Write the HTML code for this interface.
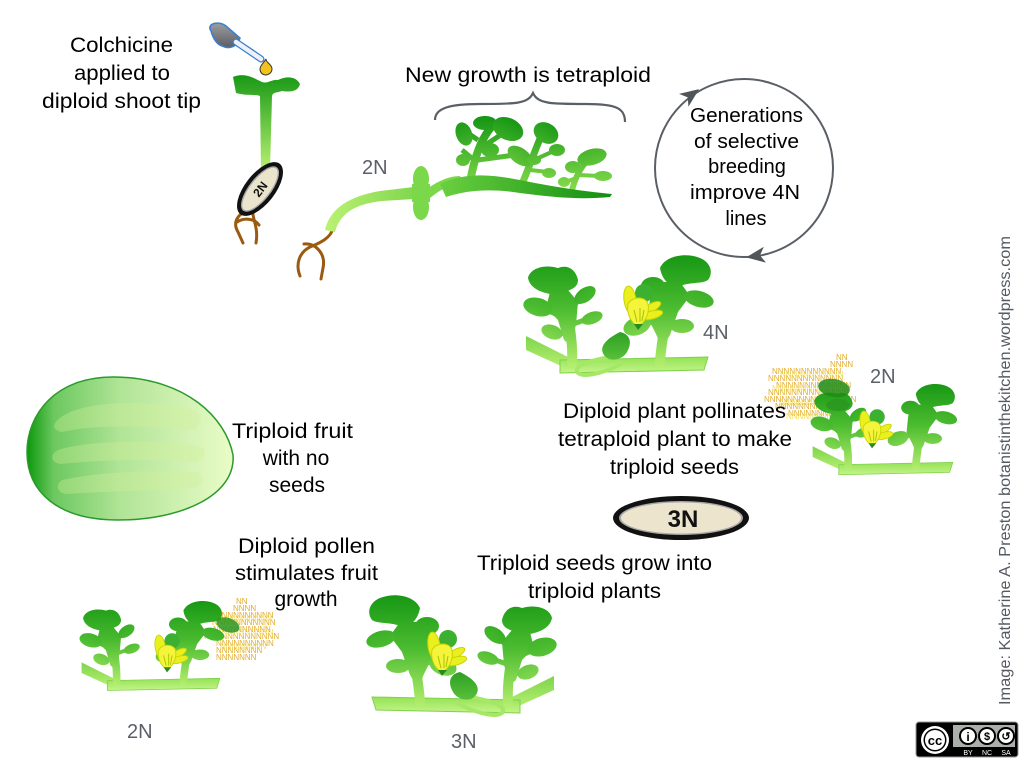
<!DOCTYPE html>
<html><head><meta charset="utf-8">
<style>
html,body{margin:0;padding:0;background:#fff;}
body{width:1024px;height:768px;overflow:hidden;}
svg{display:block;}
text{font-family:"Liberation Sans",sans-serif;}
</style></head>
<body>
<svg width="1024" height="768" viewBox="0 0 1024 768" xmlns="http://www.w3.org/2000/svg">
<defs>
  <linearGradient id="lg" gradientUnits="userSpaceOnUse" x1="0" y1="0" x2="0" y2="118">
    <stop offset="0" stop-color="#129412"/>
    <stop offset="0.5" stop-color="#4cbc30"/>
    <stop offset="1" stop-color="#b8f070"/>
  </linearGradient>
  <linearGradient id="sg" gradientUnits="userSpaceOnUse" x1="0" y1="105" x2="0" y2="124">
    <stop offset="0" stop-color="#8ee050"/>
    <stop offset="1" stop-color="#c8f58c"/>
  </linearGradient>
  <linearGradient id="og" gradientUnits="userSpaceOnUse" x1="0" y1="80" x2="0" y2="112">
    <stop offset="0" stop-color="#2a9e22"/>
    <stop offset="1" stop-color="#5cc23c"/>
  </linearGradient>
  <linearGradient id="lg2" gradientUnits="userSpaceOnUse" x1="0" y1="115" x2="0" y2="195">
    <stop offset="0" stop-color="#129412"/>
    <stop offset="1" stop-color="#8ee050"/>
  </linearGradient>
  <linearGradient id="st2" gradientUnits="userSpaceOnUse" x1="330" y1="0" x2="450" y2="0">
    <stop offset="0" stop-color="#b8f070"/>
    <stop offset="1" stop-color="#6acc40"/>
  </linearGradient>
  <linearGradient id="br2" gradientUnits="userSpaceOnUse" x1="440" y1="0" x2="612" y2="0">
    <stop offset="0" stop-color="#6ad040"/>
    <stop offset="1" stop-color="#118e11"/>
  </linearGradient>
  <linearGradient id="cot" gradientUnits="userSpaceOnUse" x1="0" y1="72" x2="0" y2="170">
    <stop offset="0" stop-color="#139613"/>
    <stop offset="1" stop-color="#b8f070"/>
  </linearGradient>
  <linearGradient id="melon" gradientUnits="userSpaceOnUse" x1="27" y1="0" x2="233" y2="0">
    <stop offset="0" stop-color="#0c980c"/>
    <stop offset="0.13" stop-color="#6cc860"/>
    <stop offset="0.45" stop-color="#b0e496"/>
    <stop offset="1" stop-color="#eafcc8"/>
  </linearGradient>
  <linearGradient id="bulb" x1="0" y1="0" x2="0" y2="1">
    <stop offset="0" stop-color="#9a9ca0"/>
    <stop offset="1" stop-color="#5c5e64"/>
  </linearGradient>

  <g id="flower">
    <circle cx="6" cy="-13" r="9" fill="#3cb030"/>
    <ellipse cx="-8" cy="-6" rx="6" ry="14" transform="rotate(-8 -8 -6)" fill="#eaf020" stroke="#c8d400" stroke-width="1"/>
    <ellipse cx="13" cy="2" rx="11" ry="4" transform="rotate(-30 13 2)" fill="#eaf020" stroke="#c8d400" stroke-width="1"/>
    <ellipse cx="14" cy="9" rx="11" ry="4" transform="rotate(-15 14 9)" fill="#eaf020" stroke="#c8d400" stroke-width="1"/>
    <path d="M-10,-2 C-6,-10 8,-10 10,-2 C12,8 6,18 0,20 C-6,18 -12,8 -10,-2 Z" fill="#f4f43a" stroke="#c8d400" stroke-width="1"/>
    <path d="M-4,4 L-1,16 M2,2 L2,16 M6,4 L4,15" stroke="#a8c000" stroke-width="1" fill="none"/>
    <path d="M-4,18 L0,24 L5,18 Z" fill="#2a8a20"/>
  </g>

  <g id="plant">
    <path d="M6,86 L6,100 L52,121 L58,112 Z" fill="url(#lg)"/>
    <path d="M40,110 L188,107 L184,120 L40,123 Z" fill="url(#sg)" stroke="#7fd24a" stroke-width="1"/>
    <g fill="url(#lg)">
      <path d="M52,112 C53,95 50,75 46,56 C44,46 40,38 34,32" stroke="url(#lg)" stroke-width="10" fill="none" stroke-linecap="round"/>
      <path d="M8,28 C10,18 25,14 38,18 C48,14 56,20 58,30 C58,38 50,40 44,42 L30,44 C20,42 10,38 8,28 Z"/>
      <path d="M30,42 L48,40 L58,52 L56,75 L50,95 L44,90 L38,70 L26,58 Z"/>
      <path d="M46,60 L66,46 M48,76 L70,68 M40,66 L22,58 M46,84 L32,82" stroke="url(#lg)" stroke-width="5" fill="none"/>
      <ellipse cx="18" cy="57" rx="15" ry="9" transform="rotate(15 18 57)"/>
      <ellipse cx="65" cy="45" rx="12" ry="7" transform="rotate(-35 65 45)"/>
      <ellipse cx="72" cy="68" rx="11" ry="6" transform="rotate(-20 72 68)"/>
      <ellipse cx="32" cy="82" rx="11" ry="7" transform="rotate(20 32 82)"/>
      <path d="M140,112 C141,95 145,75 148,55 C150,42 155,32 161,25" stroke="url(#lg)" stroke-width="10" fill="none" stroke-linecap="round"/>
      <path d="M140,18 C145,6 165,2 180,8 C190,12 194,22 188,30 C182,34 170,32 160,36 C150,38 142,30 140,18 Z"/>
      <path d="M134,32 L160,32 L170,46 L158,62 L150,85 L142,98 L136,84 L128,68 L130,48 Z"/>
      <path d="M150,44 L178,50 M150,70 L162,76 M142,70 L118,76 M140,40 L132,36" stroke="url(#lg)" stroke-width="5" fill="none"/>
      <ellipse cx="133" cy="36" rx="12" ry="9"/>
      <ellipse cx="179" cy="49" rx="15" ry="8" transform="rotate(15 179 49)"/>
      <ellipse cx="117" cy="76" rx="14" ry="9" transform="rotate(-20 117 76)"/>
      <ellipse cx="162" cy="76" rx="12" ry="7"/>
    </g>
  </g>

  <g id="ovary">
    <path d="M96,106 C70,110 52,116 58,123 C66,129 92,120 104,112" stroke="#a5e866" stroke-width="4" fill="none"/>
    <path d="M100,82 C110,84 112,92 108,100 C104,110 90,113 84,105 C78,96 88,88 100,82 Z" fill="url(#og)"/>
  </g>
</defs>

<!-- ===== Top-left seedling with colchicine ===== -->
<g font-size="21" fill="#000">
  <text x="70" y="52" textLength="103" lengthAdjust="spacingAndGlyphs">Colchicine</text>
  <text x="74" y="80" textLength="96" lengthAdjust="spacingAndGlyphs">applied to</text>
  <text x="42" y="108" textLength="159" lengthAdjust="spacingAndGlyphs">diploid shoot tip</text>
</g>

<!-- dropper -->
<path d="M211,31 C206,24 218,20 226,26 L240,38 C238,46 230,50 222,46 C216,44 213,38 211,31 Z" fill="url(#bulb)" stroke="#3a80d0" stroke-width="1.5"/>
<line x1="236" y1="42" x2="261" y2="59" stroke="#3a80d0" stroke-width="7" stroke-linecap="round"/>
<line x1="236" y1="42" x2="261" y2="59" stroke="#eef2f6" stroke-width="4.5" stroke-linecap="round"/>
<path d="M266,59 C266,63 272,64 272,69 C272,73 268,75 266,75 C262,75 260,72 260,69 C260,65 264,63 266,59 Z" fill="#f2c21e" stroke="#333" stroke-width="1"/>

<!-- seedling 1 -->
<path d="M233,77 C244,72 254,78 262,82 C268,84 272,79 278,80 C286,76 296,76 300,84 C298,92 290,92 282,91 C276,93 273,92 272,96 L270,170 L261,170 L260,96 C256,94 246,96 236,93 Z" fill="url(#cot)"/>
<g stroke="#9a5a10" stroke-width="3" fill="none" stroke-linecap="round">
  <path d="M249,209 C238,214 232,222 238,232 L243,243"/>
  <path d="M253,207 C251,218 259,226 256,243"/>
  <path d="M237,222 C245,217 255,219 259,225"/>
</g>
<g transform="translate(260,189) rotate(-52)">
  <ellipse cx="0" cy="0" rx="32" ry="15" fill="#111"/>
  <ellipse cx="0" cy="0" rx="27.5" ry="11" fill="#a8a8a8"/>
  <ellipse cx="0" cy="0" rx="26" ry="9.5" fill="#ebe4cd"/>
  <text x="0" y="4.5" font-size="12" font-weight="bold" text-anchor="middle" fill="#111">2N</text>
</g>

<!-- seedling 2 -->
<text x="362" y="174" font-size="20" fill="#5b6068">2N</text>
<g stroke="#9a5a10" stroke-width="3" fill="none" stroke-linecap="round">
  <path d="M333,228 C331,238 320,243 310,247 C300,252 295,263 300,276"/>
  <path d="M304,244 C316,243 326,254 323,268 L321,279"/>
</g>
<path d="M325,230 C330,208 350,196 380,191 L414,187 L414,199 L382,201 C354,204 340,214 335,232 Z" fill="url(#st2)"/>
<ellipse cx="421" cy="179" rx="8" ry="13" fill="#7ad84a"/>
<ellipse cx="421" cy="207" rx="8" ry="13" fill="#7ad84a"/>
<rect x="412" y="184" width="18" height="18" fill="#7ad84a"/>
<path d="M428,188 C440,180 450,176 460,176 L462,182 C450,184 440,190 430,198 Z" fill="#7ad84a"/>
<g fill="url(#lg2)">
  <g stroke="url(#lg2)" fill="none">
    <path d="M470,182 C474,160 480,140 492,126" stroke-width="8"/>
    <path d="M478,150 L502,134 M478,160 L515,155 M474,160 L462,150 M478,140 L466,132" stroke-width="5"/>
    <path d="M522,184 C528,170 535,150 542,134" stroke-width="7"/>
    <path d="M534,160 L556,150 M530,170 L548,172" stroke-width="4"/>
    <path d="M572,190 C576,175 582,165 590,158" stroke-width="6"/>
    <path d="M578,175 L600,176 M576,178 L566,182" stroke-width="4"/>
  </g>
  <ellipse cx="464" cy="134" rx="8" ry="12" transform="rotate(-20 464 134)"/>
  <ellipse cx="485" cy="123" rx="12" ry="7"/>
  <ellipse cx="508" cy="129" rx="16" ry="11" transform="rotate(25 508 129)"/>
  <ellipse cx="520" cy="156" rx="14" ry="8" transform="rotate(35 520 156)"/>
  <ellipse cx="490" cy="150" rx="9" ry="7"/>
  <ellipse cx="463" cy="160" rx="7" ry="6"/>
  <ellipse cx="546" cy="133" rx="13" ry="10" transform="rotate(30 546 133)"/>
  <ellipse cx="557" cy="150" rx="8" ry="6"/>
  <ellipse cx="534" cy="160" rx="7" ry="5"/>
  <ellipse cx="549" cy="173" rx="7" ry="5"/>
  <ellipse cx="592" cy="157" rx="15" ry="8" transform="rotate(-15 592 157)"/>
  <ellipse cx="603" cy="176" rx="9" ry="5"/>
  <ellipse cx="573" cy="167" rx="8" ry="6"/>
  <ellipse cx="564" cy="182" rx="6" ry="5"/>
</g>
<path d="M440,184 C470,170 500,176 530,182 C560,188 590,192 612,194 L610,197 C580,200 550,197 520,193 C495,189 470,189 446,197 Z" fill="url(#br2)"/>

<!-- bracket -->
<path d="M435,120 C435,108 450,104 480,104 C515,104 528,104 533,93 C538,104 551,104 586,104 C616,104 625,108 625,122" fill="none" stroke="#5a5f66" stroke-width="2.2"/>
<text x="405" y="82" font-size="21" fill="#000" textLength="246" lengthAdjust="spacingAndGlyphs">New growth is tetraploid</text>

<!-- cycle circle -->
<circle cx="744" cy="168" r="89" fill="none" stroke="#5a5f66" stroke-width="2"/>
<path d="M10,0 L-9,-8 L-4,0 L-9,8 Z" fill="#50555c" transform="translate(691,95) rotate(-36)"/>
<path d="M10,0 L-9,-8 L-4,0 L-9,8 Z" fill="#50555c" transform="translate(756,256) rotate(172)"/>
<g font-size="20" fill="#000">
  <text x="690" y="122" textLength="113" lengthAdjust="spacingAndGlyphs">Generations</text>
  <text x="694" y="148" textLength="105" lengthAdjust="spacingAndGlyphs">of selective</text>
  <text x="747" y="173" text-anchor="middle">breeding</text>
  <text x="690" y="199" textLength="110" lengthAdjust="spacingAndGlyphs">improve 4N</text>
  <text x="746" y="225" text-anchor="middle">lines</text>
</g>

<!-- 4N plant -->
<use href="#plant" transform="translate(520,250)"/>
<use href="#ovary" transform="translate(520,250)"/>
<use href="#flower" transform="translate(638,306)"/>
<text x="703" y="339" font-size="20" fill="#5b6068">4N</text>

<!-- 2N right plant with pollen -->
<g font-size="8" fill="#e2ac2e">
  <text x="836" y="360">NN</text>
  <text x="830" y="367">NNNN</text>
  <text x="772" y="374">NNNNNNNNNNNN</text>
  <text x="768" y="381">NNNNNNNNNNNNN</text>
  <text x="776" y="388">NNNNNNNNNNNNN</text>
  <text x="768" y="395">NNNNNNNNNNNNNN</text>
  <text x="764" y="402">NNNNNNNNNNNNNNNN</text>
  <text x="775" y="409">NNNNNNNNNNNNN</text>
  <text x="788" y="416">NNNNNNNNN</text>
</g>
<g font-size="8" fill="#f4d84a" opacity="0.85">
  <text x="780" y="377">NNNNNNNNNNN</text>
  <text x="772" y="391">NNNNNNNNNNNNN</text>
  <text x="780" y="405">NNNNNNNNNNN</text>
  <text x="786" y="419">NNNNNNNN</text>
</g>
<use href="#plant" transform="translate(808,380) scale(0.77)"/>
<ellipse cx="834" cy="388" rx="16" ry="9" fill="#1f8c1a" transform="rotate(10 834 388)" opacity="0.85"/>
<ellipse cx="838" cy="405" rx="12" ry="6" fill="#2a9620" opacity="0.85"/>
<use href="#flower" transform="translate(872,428) scale(0.85)"/>
<text x="870" y="383" font-size="20" fill="#5b6068">2N</text>

<!-- pollination text -->
<g font-size="21" fill="#000">
  <text x="563" y="418" textLength="223" lengthAdjust="spacingAndGlyphs">Diploid plant pollinates</text>
  <text x="558" y="446" textLength="234" lengthAdjust="spacingAndGlyphs">tetraploid plant to make</text>
  <text x="610" y="474" textLength="129" lengthAdjust="spacingAndGlyphs">triploid seeds</text>
</g>

<!-- 3N seed -->
<ellipse cx="681" cy="518" rx="68" ry="22" fill="#111"/>
<ellipse cx="681" cy="518" rx="62" ry="17" fill="#a8a8a8"/>
<ellipse cx="681" cy="518" rx="60" ry="15.5" fill="#ece4cc"/>
<text x="683" y="527" font-size="24" font-weight="bold" text-anchor="middle" fill="#111">3N</text>

<!-- watermelon -->
<path d="M233,455 C226,418 186,378 115,377 C55,376 27,415 27,452 C27,492 58,520 118,520 C182,520 236,495 233,455 Z" fill="url(#melon)" stroke="#2a9a2a" stroke-width="1.5"/>
<g fill="#d4f09a" opacity="0.35">
  <path d="M60,418 C80,402 140,398 195,410 C205,414 202,428 190,430 C140,425 90,425 62,432 C52,430 52,424 60,418 Z"/>
  <path d="M58,450 C90,440 150,440 200,446 C208,450 206,460 196,462 C150,458 100,460 60,464 C50,462 50,454 58,450 Z"/>
  <path d="M62,480 C100,472 150,470 198,472 C206,476 204,486 194,488 C150,490 100,492 66,494 C56,492 56,484 62,480 Z"/>
</g>
<g font-size="21" fill="#000">
  <text x="232" y="438" textLength="121" lengthAdjust="spacingAndGlyphs">Triploid fruit</text>
  <text x="296" y="465" text-anchor="middle">with no</text>
  <text x="297" y="492" text-anchor="middle">seeds</text>
</g>

<!-- bottom-left 2N plant -->
<g font-size="21" fill="#000">
  <text x="238" y="553" textLength="137" lengthAdjust="spacingAndGlyphs">Diploid pollen</text>
  <text x="235" y="580" textLength="143" lengthAdjust="spacingAndGlyphs">stimulates fruit</text>
  <text x="306" y="606" text-anchor="middle">growth</text>
</g>
<g font-size="8" fill="#e2ac2e">
  <text x="236" y="604">NN</text>
  <text x="233" y="611">NNNN</text>
  <text x="210" y="618">NNNNNNNNNNN</text>
  <text x="212" y="625">NNNNNNNNNNN</text>
  <text x="213" y="632">NNNNNNNNNN</text>
  <text x="204" y="639">NNNNNNNNNNNNN</text>
  <text x="216" y="646">NNNNNNNNNN</text>
  <text x="216" y="653">NNNNNNNN</text>
  <text x="216" y="660">NNNNNNN</text>
</g>
<g font-size="8" fill="#f4d84a" opacity="0.85">
  <text x="214" y="621">NNNNNNNNNN</text>
  <text x="210" y="635">NNNNNNNNNNN</text>
  <text x="220" y="649">NNNNNNNN</text>
</g>
<use href="#plant" transform="translate(77,597) scale(0.76)"/>
<ellipse cx="228" cy="625" rx="12" ry="7" fill="#2a9620" transform="rotate(20 228 625)" opacity="0.85"/>
<use href="#flower" transform="translate(167,652) scale(0.85)"/>
<text x="127" y="738" font-size="20" fill="#5b6068">2N</text>

<!-- 3N plant -->
<g font-size="21" fill="#000">
  <text x="477" y="570" textLength="235" lengthAdjust="spacingAndGlyphs">Triploid seeds grow into</text>
  <text x="528" y="598" textLength="133" lengthAdjust="spacingAndGlyphs">triploid plants</text>
</g>
<g transform="translate(560,590) scale(-1,1)">
  <use href="#plant"/>
  <use href="#ovary"/>
</g>
<use href="#flower" transform="translate(442,652)"/>
<text x="451" y="748" font-size="20" fill="#5b6068">3N</text>

<!-- credit -->
<text transform="translate(1010,705) rotate(-90)" font-size="16" fill="#555a60" textLength="469" lengthAdjust="spacingAndGlyphs">Image: Katherine A. Preston botanistinthekitchen.wordpress.com</text>

<!-- CC badge -->
<rect x="916" y="722" width="102" height="35" rx="3" fill="#000" stroke="#999" stroke-width="1"/>
<rect x="953" y="725" width="62" height="22" fill="#abb1aa"/>
<circle cx="935" cy="740" r="14" fill="#fff"/>
<circle cx="935" cy="740" r="11.5" fill="#000"/>
<circle cx="935" cy="740" r="10" fill="#fff"/>
<text x="935" y="745" font-size="13" font-weight="bold" text-anchor="middle" fill="#000">cc</text>
<circle cx="968" cy="736" r="8" fill="#fff" stroke="#000" stroke-width="2"/>
<text x="968" y="741" font-size="12" font-weight="bold" text-anchor="middle" fill="#000">i</text>
<circle cx="987" cy="736" r="8" fill="#fff" stroke="#000" stroke-width="2"/>
<text x="987" y="740" font-size="11" font-weight="bold" text-anchor="middle" fill="#000">$</text>
<circle cx="1006" cy="736" r="8" fill="#fff" stroke="#000" stroke-width="2"/>
<text x="1006" y="740" font-size="11" font-weight="bold" text-anchor="middle" fill="#000">↺</text>
<text x="968" y="755" font-size="7" text-anchor="middle" fill="#fff">BY</text>
<text x="987" y="755" font-size="7" text-anchor="middle" fill="#fff">NC</text>
<text x="1006" y="755" font-size="7" text-anchor="middle" fill="#fff">SA</text>
</svg>
</body></html>
